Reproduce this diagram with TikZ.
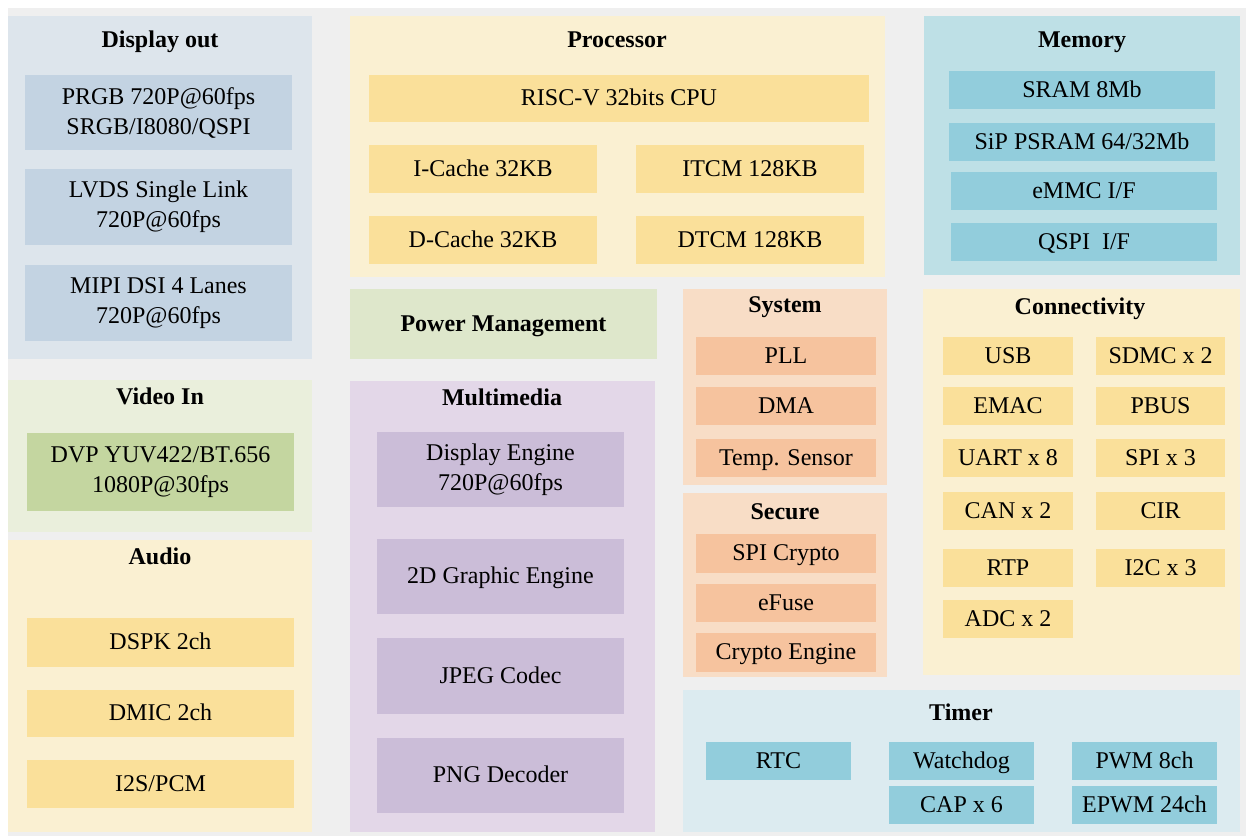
\documentclass[tikz,border=0pt]{standalone}
\usepackage{fontspec}
\setmainfont{Liberation Serif}
\usepackage{xcolor}
\usepackage{tikz}

\definecolor{pagebg}{HTML}{EFEFEF}
\definecolor{dispo}{HTML}{DDE5EC}
\definecolor{dispi}{HTML}{C3D3E2}
\definecolor{yelo}{HTML}{FAF0D2}
\definecolor{yeli}{HTML}{FAE09A}
\definecolor{memo}{HTML}{BEE0E6}
\definecolor{memi}{HTML}{92CDDC}
\definecolor{pwro}{HTML}{DEE7CB}
\definecolor{syso}{HTML}{F8DDC6}
\definecolor{sysi}{HTML}{F6C39E}
\definecolor{timo}{HTML}{DCEBF0}
\definecolor{vido}{HTML}{EAEFDC}
\definecolor{vidi}{HTML}{C4D6A0}
\definecolor{mmo}{HTML}{E3D7E8}
\definecolor{mmi}{HTML}{CBBDD8}

\begin{document}
\begin{tikzpicture}[x=1pt, y=-1pt,
    grp/.style={anchor=north west, inner sep=0pt, outer sep=0pt},
    blktwo/.style={anchor=north west, inner sep=0pt, outer sep=0pt, align=center,
                font=\fontsize{24}{30}\selectfont},
    blk/.style={blktwo, text height=17pt, text depth=2.5pt},
    ttl/.style={inner sep=0pt, text height=17pt, text depth=2.5pt,
                font=\fontsize{24}{30}\selectfont\bfseries}]
    \useasboundingbox (0,0) rectangle (1246,836);
    \fill[white] (0,0) rectangle (1246,836);
    \fill[pagebg] (8,8) rectangle (1246,836);

    % Display out
    \node[grp, fill=dispo, minimum width=304, minimum height=343] at (8,16) (dispout) {};
    \node[ttl] at (160,40) (dispoutT) {Display out};
    \node[blktwo, fill=dispi, minimum width=267, minimum height=75] at (25,75) (prgb) {PRGB 720P@60fps\\SRGB/I8080/QSPI};
    \node[blktwo, fill=dispi, minimum width=267, minimum height=76] at (25,169) (lvds) {LVDS Single Link\\720P@60fps};
    \node[blktwo, fill=dispi, minimum width=267, minimum height=76] at (25,265) (mipi) {MIPI DSI 4 Lanes\\720P@60fps};

    % Processor
    \node[grp, fill=yelo, minimum width=535, minimum height=261] at (350,16) (proc) {};
    \node[ttl] at (617,40) (procT) {Processor};
    \node[blk, fill=yeli, minimum width=500, minimum height=47] at (369,75) (cpu) {RISC-V 32bits CPU};
    \node[blk, fill=yeli, minimum width=228, minimum height=48] at (369,145) (icache) {I-Cache 32KB};
    \node[blk, fill=yeli, minimum width=228, minimum height=48] at (636,145) (itcm) {ITCM 128KB};
    \node[blk, fill=yeli, minimum width=228, minimum height=48] at (369,216) (dcache) {D-Cache 32KB};
    \node[blk, fill=yeli, minimum width=228, minimum height=48] at (636,216) (dtcm) {DTCM 128KB};

    % Memory
    \node[grp, fill=memo, minimum width=316, minimum height=259] at (924,16) (mem) {};
    \node[ttl] at (1082,40) (memT) {Memory};
    \node[blk, fill=memi, minimum width=266, minimum height=38] at (949,71) (sram) {SRAM 8Mb};
    \node[blk, fill=memi, minimum width=266, minimum height=38] at (949,123) (psram) {SiP PSRAM 64/32Mb};
    \node[blk, fill=memi, minimum width=266, minimum height=38] at (951,172) (emmc) {eMMC I/F};
    \node[blk, fill=memi, minimum width=266, minimum height=38] at (951,223) (qspi) {QSPI\ \ I/F};

    % Power Management
    \node[grp, fill=pwro, minimum width=307, minimum height=70, text height=17pt, text depth=2.5pt,
          font=\fontsize{24}{30}\selectfont\bfseries] at (350,289) (pwr) {Power Management};

    % System
    \node[grp, fill=syso, minimum width=204, minimum height=196] at (683,289) (sys) {};
    \node[ttl] at (785,305) (sysT) {System};
    \node[blk, fill=sysi, minimum width=180, minimum height=38] at (696,337) (pll) {PLL};
    \node[blk, fill=sysi, minimum width=180, minimum height=38] at (696,387) (dma) {DMA};
    \node[blk, fill=sysi, minimum width=180, minimum height=38] at (696,439) (temp) {Temp. Sensor};

    % Secure
    \node[grp, fill=syso, minimum width=204, minimum height=184] at (683,493) (sec) {};
    \node[ttl] at (785,512) (secT) {Secure};
    \node[blk, fill=sysi, minimum width=180, minimum height=39] at (696,534) (spicr) {SPI Crypto};
    \node[blk, fill=sysi, minimum width=180, minimum height=38] at (696,584) (efuse) {eFuse};
    \node[blk, fill=sysi, minimum width=180, minimum height=39] at (696,633) (creng) {Crypto Engine};

    % Connectivity
    \node[grp, fill=yelo, minimum width=317, minimum height=386] at (923,289) (conn) {};
    \node[ttl] at (1080,307) (connT) {Connectivity};
    \node[blk, fill=yeli, minimum width=130, minimum height=38] at (943,337) (usb) {USB};
    \node[blk, fill=yeli, minimum width=130, minimum height=38] at (943,387) (emac) {EMAC};
    \node[blk, fill=yeli, minimum width=130, minimum height=38] at (943,439) (uart) {UART x 8};
    \node[blk, fill=yeli, minimum width=130, minimum height=38] at (943,492) (can) {CAN x 2};
    \node[blk, fill=yeli, minimum width=130, minimum height=38] at (943,549) (rtp) {RTP};
    \node[blk, fill=yeli, minimum width=130, minimum height=38] at (943,600) (adc) {ADC x 2};
    \node[blk, fill=yeli, minimum width=129, minimum height=38] at (1096,337) (sdmc) {SDMC x 2};
    \node[blk, fill=yeli, minimum width=129, minimum height=38] at (1096,387) (pbus) {PBUS};
    \node[blk, fill=yeli, minimum width=129, minimum height=38] at (1096,439) (spi) {SPI x 3};
    \node[blk, fill=yeli, minimum width=129, minimum height=38] at (1096,492) (cir) {CIR};
    \node[blk, fill=yeli, minimum width=129, minimum height=38] at (1096,549) (itwoc) {I2C x 3};

    % Timer
    \node[grp, fill=timo, minimum width=557, minimum height=142] at (683,690) (tim) {};
    \node[ttl] at (961,713) (timT) {Timer};
    \node[blk, fill=memi, minimum width=145, minimum height=38] at (706,742) (rtc) {RTC};
    \node[blk, fill=memi, minimum width=145, minimum height=38] at (889,742) (wdog) {Watchdog};
    \node[blk, fill=memi, minimum width=145, minimum height=38] at (889,786) (cap) {CAP x 6};
    \node[blk, fill=memi, minimum width=145, minimum height=38] at (1072,742) (pwm) {PWM 8ch};
    \node[blk, fill=memi, minimum width=145, minimum height=38] at (1072,786) (epwm) {EPWM 24ch};

    % Video In
    \node[grp, fill=vido, minimum width=304, minimum height=152] at (8,380) (vid) {};
    \node[ttl] at (160,397) (vidT) {Video In};
    \node[blktwo, fill=vidi, minimum width=267, minimum height=78] at (27,433) (dvp) {DVP YUV422/BT.656\\1080P@30fps};

    % Audio
    \node[grp, fill=yelo, minimum width=304, minimum height=292] at (8,540) (aud) {};
    \node[ttl] at (160,557) (audT) {Audio};
    \node[blk, fill=yeli, minimum width=267, minimum height=49] at (27,618) (dspk) {DSPK 2ch};
    \node[blk, fill=yeli, minimum width=267, minimum height=47] at (27,690) (dmic) {DMIC 2ch};
    \node[blk, fill=yeli, minimum width=267, minimum height=48] at (27,760) (itwos) {I2S/PCM};

    % Multimedia
    \node[grp, fill=mmo, minimum width=305, minimum height=451] at (350,381) (mm) {};
    \node[ttl] at (502,398) (mmT) {Multimedia};
    \node[blktwo, fill=mmi, minimum width=247, minimum height=75] at (377,432) (deng) {Display Engine\\720P@60fps};
    \node[blk, fill=mmi, minimum width=247, minimum height=75] at (377,539) (gtwod) {2D Graphic Engine};
    \node[blk, fill=mmi, minimum width=247, minimum height=76] at (377,638) (jpeg) {JPEG Codec};
    \node[blk, fill=mmi, minimum width=247, minimum height=75] at (377,738) (png) {PNG Decoder};
\end{tikzpicture}
\end{document}
